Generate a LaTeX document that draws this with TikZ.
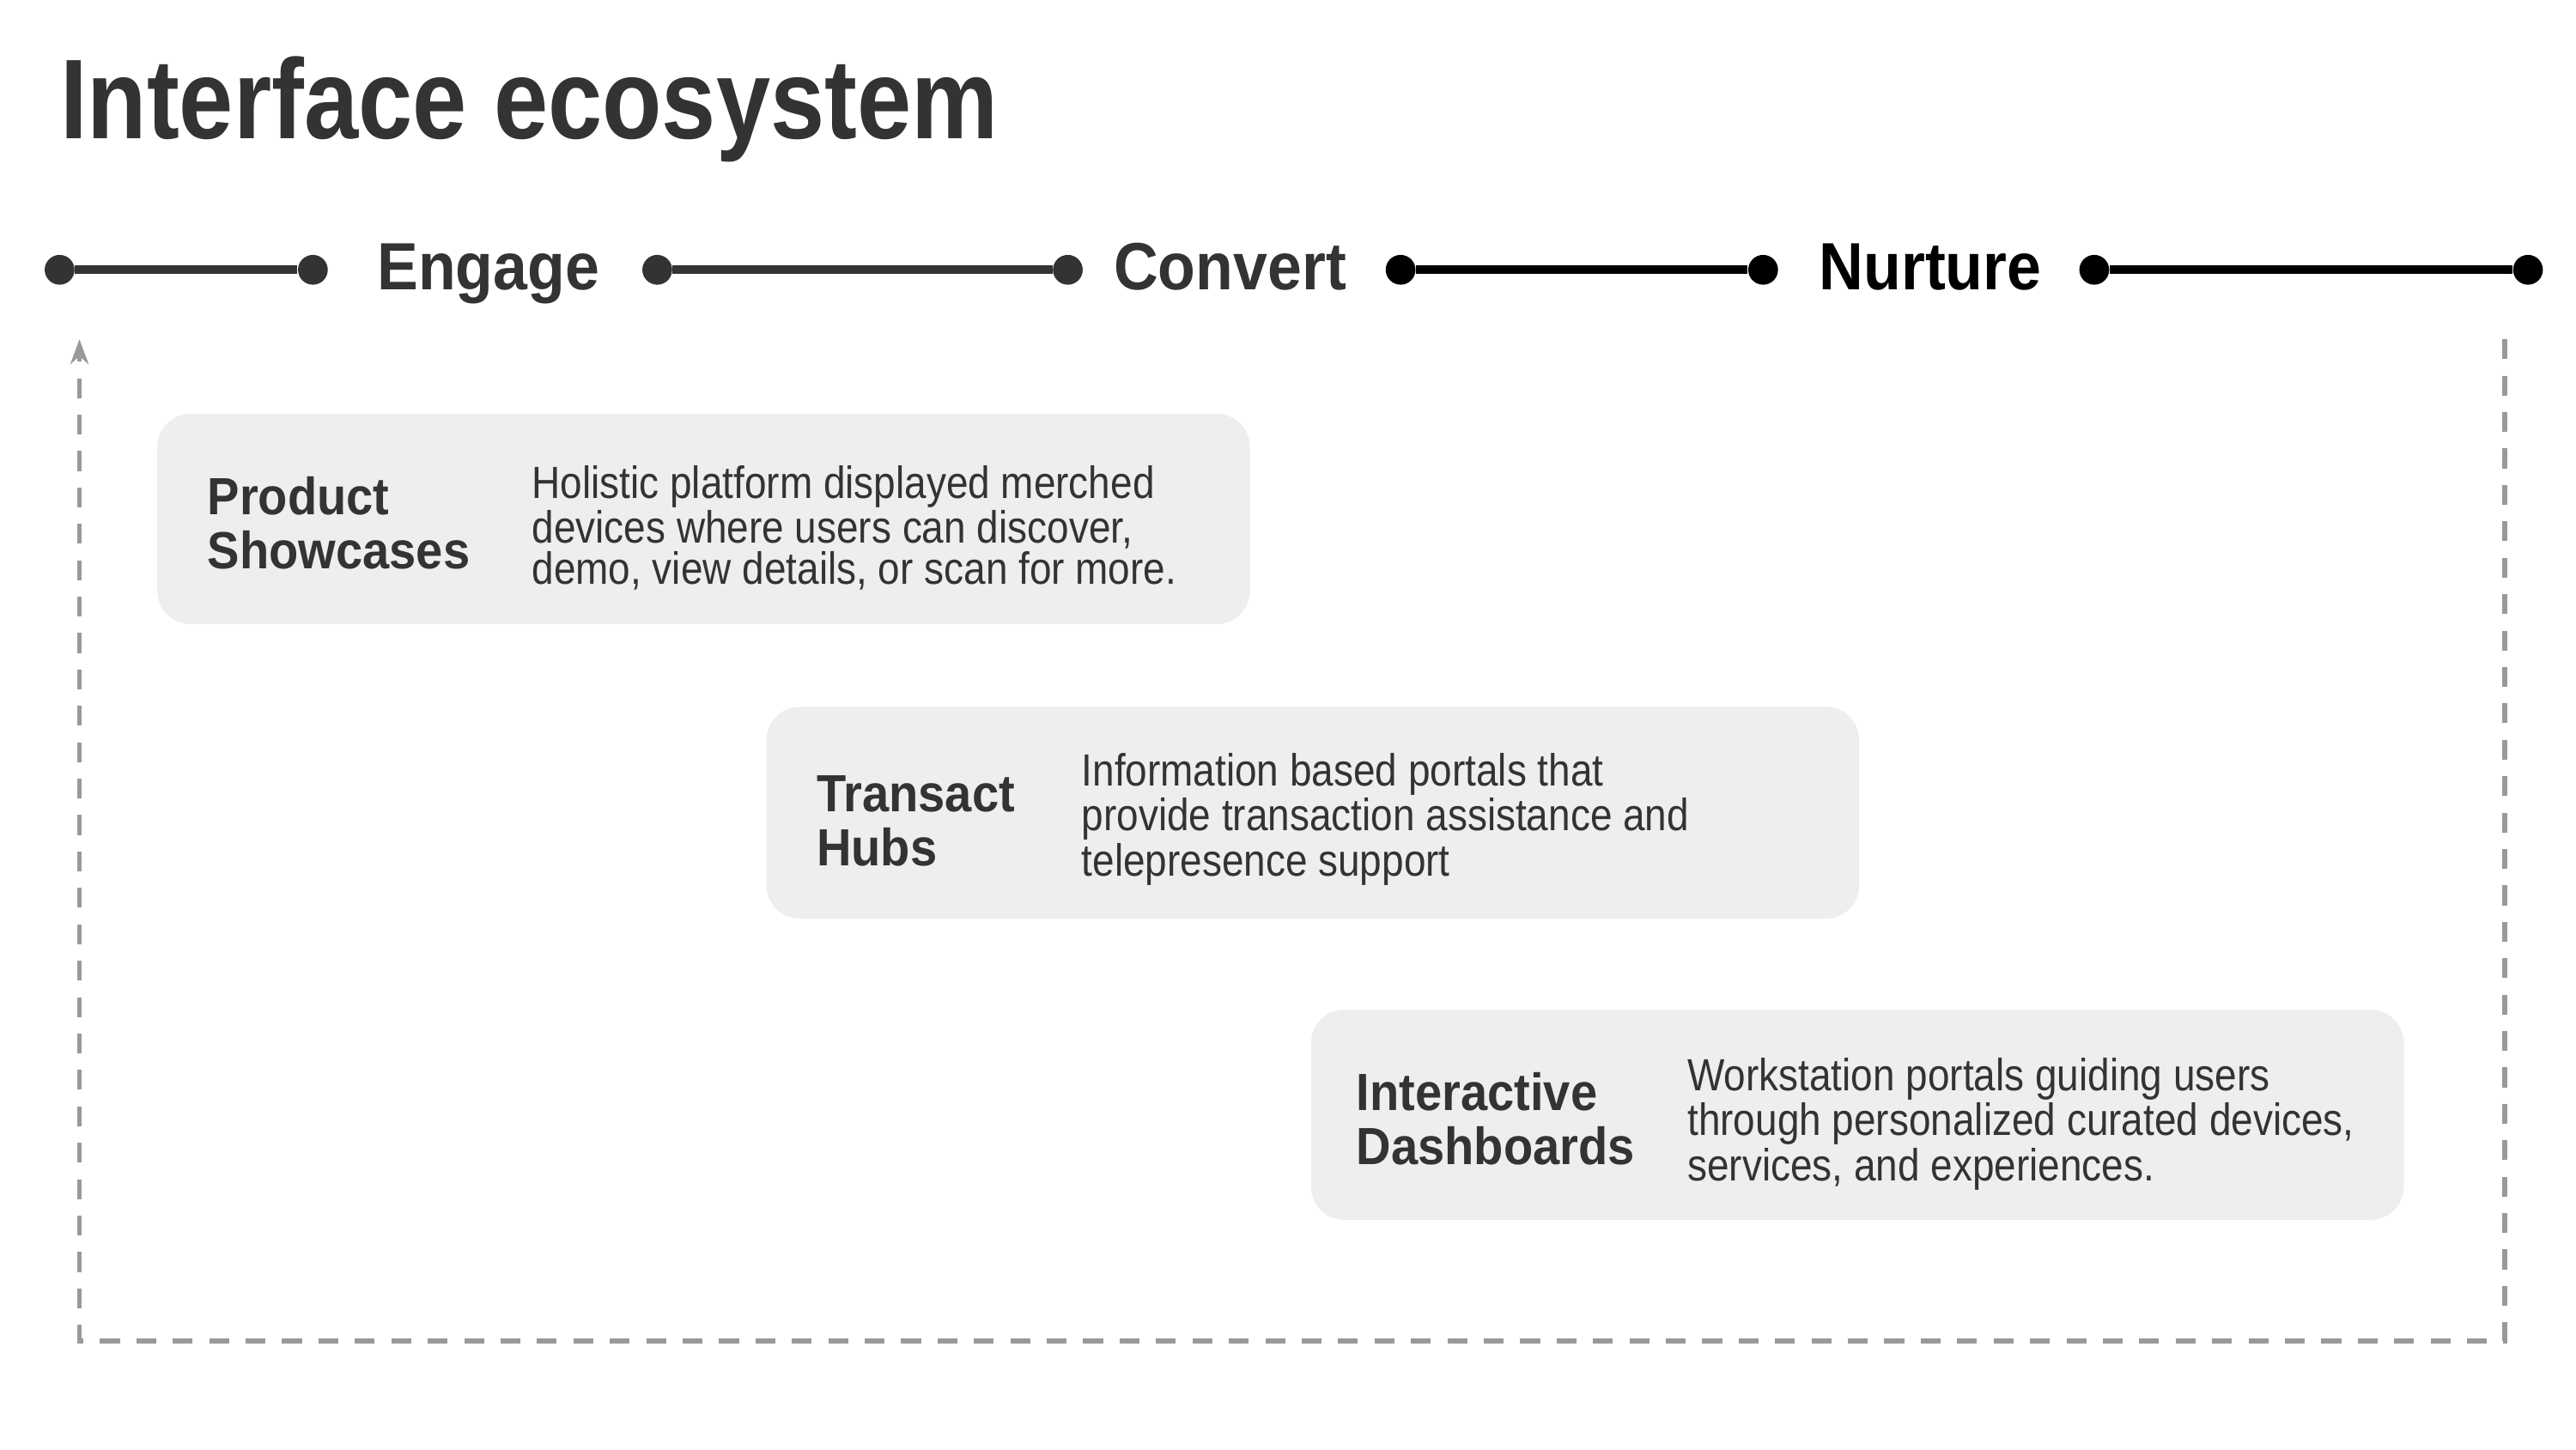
\documentclass[tikz,border=0pt]{standalone}
\usepackage{fontspec}
\setmainfont{Liberation Sans}
\newfontfamily\ttlfont{Liberation Sans}[FakeStretch=0.86]
\newfontfamily\hdfont{Liberation Sans}[FakeStretch=0.92]
\newfontfamily\dsfont{Liberation Sans}[FakeStretch=0.875]
\usetikzlibrary{arrows.meta}
\definecolor{ink}{HTML}{333333}
\definecolor{boxg}{HTML}{EEEEEE}
\definecolor{frameg}{HTML}{999999}
\begin{document}
\begin{tikzpicture}[x=0.02cm,y=-0.02cm,
 dot/.style={circle,fill=#1,minimum size=0.36cm,inner sep=0},
 seg/.style={line width=0.1cm,draw=#1},
 phase/.style={anchor=base,font=\hdfont\fontsize{23}{26}\selectfont\bfseries,text=#1},
 card/.style={fill=boxg,rounded corners=0.4cm},
 head/.style={anchor=west,align=left,inner sep=0,text=ink,font=\hdfont\fontsize{18}{18.8}\selectfont\bfseries},
 desc/.style={anchor=west,align=left,inner sep=0,text=ink,font=\dsfont\fontsize{15.5}{14.2}\selectfont}]
\useasboundingbox (0,0) rectangle (1556,876);
\node[anchor=base west,inner sep=0,text=ink,font=\ttlfont\fontsize{39}{42}\selectfont\bfseries] (title) at (36,84) {Interface ecosystem};
% timeline
\node[dot=ink] (d1) at (36,163) {};
\node[dot=ink] (d2) at (189,163) {};
\node[dot=ink] (d3) at (397,163) {};
\node[dot=ink] (d4) at (645,163) {};
\node[dot=black] (d5) at (846,163) {};
\node[dot=black] (d6) at (1065,163) {};
\node[dot=black] (d7) at (1265,163) {};
\node[dot=black] (d8) at (1527,163) {};
\draw[seg=ink] (d1) -- (d2);
\draw[seg=ink] (d3) -- (d4);
\draw[seg=black] (d5) -- (d6);
\draw[seg=black] (d7) -- (d8);
\node[phase=ink] (engage) at (295,175) {Engage};
\node[phase=ink] (convert) at (743,175) {Convert};
\node[phase=black] (nurture) at (1166,175) {Nurture};
% dashed frame
\coordinate (f1) at (1513,205);
\coordinate (f2) at (1513,810);
\coordinate (f3) at (48,810);
\coordinate (f4) at (48,205);
\draw[frameg,line width=0.06cm,dash pattern=on 0.24cm off 0.2cm,-{Stealth[length=0.3cm,width=0.22cm]}] (f1) -- (f2) -- (f3) -- (f4);
% cards
\node[card,minimum width=660*0.02cm,minimum height=127*0.02cm] (c1) at (425,313.5) {};
\node[head] (h1) at (125,316) {Product\\Showcases};
\node[desc] (t1) at (321,319) {Holistic platform displayed merched\\devices where users can discover,\\demo, view details, or scan for more.};
\node[card,minimum width=660*0.02cm,minimum height=128*0.02cm] (c2) at (793,491) {};
\node[head] (h2) at (493,496) {Transact\\Hubs};
\node[desc] (t2) at (653,495) {Information based portals that\\provide transaction assistance and\\telepresence support};
\node[card,minimum width=660*0.02cm,minimum height=127*0.02cm] (c3) at (1122,673.5) {};
\node[head] (h3) at (819,676) {Interactive\\Dashboards};
\node[desc] (t3) at (1019,679) {Workstation portals guiding users\\through personalized curated devices,\\services, and experiences.};
\end{tikzpicture}
\end{document}
